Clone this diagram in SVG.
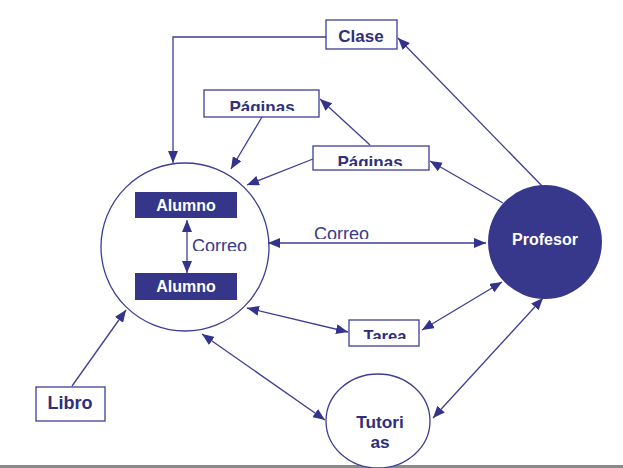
<svg xmlns="http://www.w3.org/2000/svg" width="623" height="468" viewBox="0 0 623 468">
<style>
.box{fill:#fff;stroke:#3d3d96;stroke-width:1.3}
.lbl{font-family:"Liberation Sans",Arial,sans-serif;font-weight:bold;fill:#2f2f7e;text-anchor:middle}
.wlbl{font-family:"Liberation Sans",Arial,sans-serif;font-weight:bold;fill:#fff;text-anchor:middle}
.plain{font-family:"Liberation Sans",Arial,sans-serif;fill:#3a3a8c;font-size:18px}
.ln{fill:none;stroke:#3d3d96;stroke-width:1.3}
</style>
<defs>
<marker id="ah" viewBox="0 0 12 10" refX="12" refY="5" markerWidth="12" markerHeight="10" markerUnits="userSpaceOnUse" orient="auto-start-reverse">
<path d="M0,0 L12,5 L0,10 Z" fill="#33338c"/>
</marker>
<clipPath id="cP1"><rect x="204" y="90" width="115" height="21"/></clipPath>
<clipPath id="cP2"><rect x="313" y="146" width="116" height="20"/></clipPath>
<clipPath id="cT"><rect x="349" y="320" width="70" height="19"/></clipPath>
<clipPath id="cC1"><rect x="300" y="220" width="80" height="19"/></clipPath>
<clipPath id="cC2"><rect x="190" y="230" width="70" height="21"/></clipPath>
</defs>
<rect width="623" height="468" fill="#fff"/>
<line x1="0" y1="466.5" x2="623" y2="466.5" stroke="#8a8a8a" stroke-width="3"/>

<g id="alumnos">
<circle cx="185" cy="247" r="84" fill="#fff" stroke="#3d3d96" stroke-width="1.3"/>
<text class="plain" x="192" y="252" clip-path="url(#cC2)">Correo</text>
</g>

<g id="connectors">
<polyline class="ln" points="326,37 173,37 173,163" marker-end="url(#ah)"/>
<line class="ln" x1="543" y1="187" x2="398" y2="38" marker-end="url(#ah)"/>
<line class="ln" x1="503" y1="203" x2="430" y2="161" marker-end="url(#ah)"/>
<line class="ln" x1="370" y1="145" x2="320" y2="99" marker-end="url(#ah)"/>
<line class="ln" x1="262" y1="117" x2="231" y2="169" marker-end="url(#ah)"/>
<line class="ln" x1="313" y1="159" x2="247" y2="185" marker-end="url(#ah)"/>
<line class="ln" x1="268" y1="243" x2="486" y2="243" marker-start="url(#ah)" marker-end="url(#ah)"/>
<line class="ln" x1="187" y1="220" x2="187" y2="273" marker-start="url(#ah)" marker-end="url(#ah)"/>
<line class="ln" x1="247" y1="308" x2="348" y2="332" marker-start="url(#ah)" marker-end="url(#ah)"/>
<line class="ln" x1="422" y1="330" x2="502" y2="282" marker-start="url(#ah)" marker-end="url(#ah)"/>
<line class="ln" x1="543" y1="298" x2="433" y2="418" marker-start="url(#ah)" marker-end="url(#ah)"/>
<line class="ln" x1="202" y1="334" x2="325" y2="420" marker-start="url(#ah)" marker-end="url(#ah)"/>
<line class="ln" x1="72" y1="386" x2="126" y2="310" marker-end="url(#ah)"/>
<text class="plain" x="314" y="240" clip-path="url(#cC1)">Correo</text>
</g>

<g id="alumno1">
<rect x="135" y="192" width="102" height="26" fill="#35358a"/>
<text class="wlbl" x="186" y="211" font-size="16">Alumno</text>
</g>
<g id="alumno2">
<rect x="135" y="273" width="102" height="27" fill="#35358a"/>
<text class="wlbl" x="186" y="292" font-size="16">Alumno</text>
</g>
<g id="profesor">
<circle cx="545" cy="242" r="57" fill="#37378b"/>
<text class="wlbl" x="545" y="245" font-size="16">Profesor</text>
</g>
<g id="clase">
<rect class="box" x="326" y="20" width="71" height="29"/>
<text class="lbl" x="361" y="42" font-size="17">Clase</text>
</g>
<g id="paginas1">
<rect class="box" x="204" y="90" width="115" height="27"/>
<text class="lbl" x="262" y="113" font-size="17" clip-path="url(#cP1)">Páginas</text>
</g>
<g id="paginas2">
<rect class="box" x="313" y="146" width="116" height="24"/>
<text class="lbl" x="370" y="168" font-size="17" clip-path="url(#cP2)">Páginas</text>
</g>
<g id="tarea">
<rect class="box" x="349" y="320" width="70" height="26"/>
<text class="lbl" x="385" y="342" font-size="16.5" clip-path="url(#cT)">Tarea</text>
</g>
<g id="libro">
<rect class="box" x="36" y="387" width="69" height="34"/>
<text class="lbl" x="70" y="409" font-size="18">Libro</text>
</g>
<g id="tutorias">
<ellipse cx="378" cy="421" rx="52" ry="47" fill="#fff" stroke="#3d3d96" stroke-width="1.3"/>
<text class="lbl" x="380" y="428" font-size="17.3">Tutori</text>
<text class="lbl" x="380" y="448" font-size="17.3">as</text>
</g>
</svg>
